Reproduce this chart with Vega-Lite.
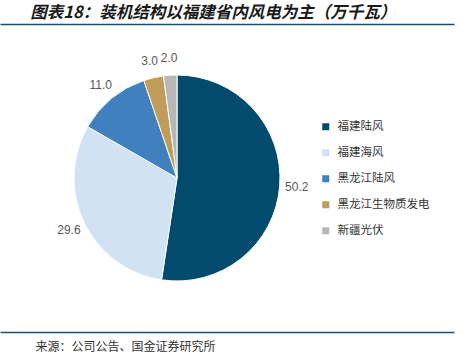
{
  "$schema": "https://vega.github.io/schema/vega-lite/v6.json",
  "width": 454,
  "height": 308,
  "autosize": {"type": "none"},
  "padding": {"left": 0, "top": 24, "right": 18, "bottom": 21},
  "background": "white",
  "title": {
    "text": "图表18：装机结构以福建省内风电为主（万千瓦）",
    "anchor": "start",
    "dx": 33,
    "font": "Noto Sans CJK SC",
    "fontSize": 16.5,
    "fontStyle": "italic",
    "fontWeight": "bold",
    "color": "#1a1a1a",
    "offset": 3
  },
  "config": {"view": {"stroke": null}},
  "data": {
    "values": [
      {"name": "福建陆风", "value": 50.2, "rank": 1},
      {"name": "福建海风", "value": 29.6, "rank": 2},
      {"name": "黑龙江陆风", "value": 11.0, "rank": 3},
      {"name": "黑龙江生物质发电", "value": 3.0, "rank": 4},
      {"name": "新疆光伏", "value": 2.0, "rank": 5}
    ]
  },
  "resolve": {"scale": {"x": "independent"}, "axis": {"x": "independent"}},
  "layer": [
    {
      "mark": {"type": "arc", "outerRadius": 103, "stroke": "white", "strokeWidth": 1},
      "encoding": {
        "theta": {"field": "value", "type": "quantitative", "stack": true},
        "order": {"field": "rank", "type": "quantitative"},
        "x": {"value": 177},
        "color": {
          "field": "name",
          "type": "nominal",
          "scale": {
            "domain": ["福建陆风", "福建海风", "黑龙江陆风", "黑龙江生物质发电", "新疆光伏"],
            "range": ["#024a6e", "#d1e2f3", "#4180be", "#c19b5a", "#b7b7b7"]
          },
          "legend": {
            "orient": "none",
            "legendX": 320,
            "legendY": 97,
            "title": null,
            "symbolType": "square",
            "symbolSize": 49,
            "symbolStrokeWidth": 0,
            "labelFont": "Noto Sans CJK SC",
            "labelFontSize": 11.5,
            "labelColor": "#333333",
            "labelOffset": 6,
            "rowPadding": 13,
            "padding": 0
          }
        }
      }
    },
    {
      "mark": {"type": "text", "radius": 120, "font": "Liberation Sans", "fontSize": 12, "color": "#595959", "baseline": "middle", "align": "center"},
      "encoding": {
        "theta": {"field": "value", "type": "quantitative", "stack": true},
        "order": {"field": "rank", "type": "quantitative"},
        "x": {"value": 177},
        "text": {"field": "value", "type": "quantitative", "format": ".1f"}
      }
    },
    {
      "mark": {"type": "point", "opacity": 0},
      "encoding": {
        "x": {
          "datum": 0,
          "type": "quantitative",
          "scale": {"domain": [0, 1]},
          "axis": {
            "orient": "bottom",
            "domainColor": "#1b4f72",
            "domainWidth": 1.5,
            "ticks": false,
            "labels": false,
            "grid": false,
            "title": "来源：公司公告、国金证券研究所",
            "titleAnchor": "start",
            "titleAlign": "left",
            "titleX": 35,
            "titleY": 14,
            "titleBaseline": "middle",
            "titleFont": "Noto Sans CJK SC",
            "titleFontSize": 12,
            "titleFontWeight": "normal",
            "titleColor": "#333333"
          }
        }
      }
    },
    {
      "mark": {"type": "point", "opacity": 0},
      "encoding": {
        "x": {
          "datum": 0,
          "type": "quantitative",
          "scale": {"domain": [0, 1]},
          "axis": {
            "orient": "top",
            "domainColor": "#1b4f72",
            "domainWidth": 1.5,
            "ticks": false,
            "labels": false,
            "grid": false,
            "title": null
          }
        }
      }
    }
  ]
}
